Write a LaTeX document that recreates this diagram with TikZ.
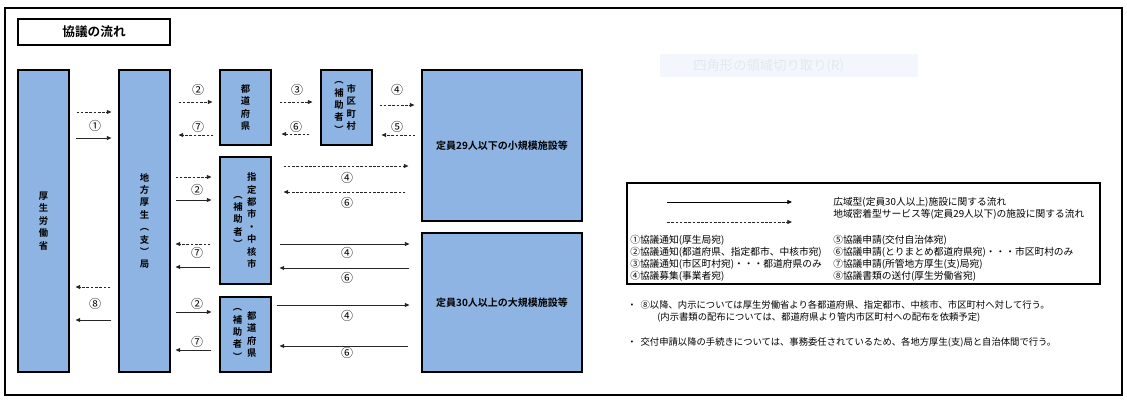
\documentclass[tikz,border=0pt]{standalone}
\usepackage{fontspec}
\setmainfont{Noto Sans CJK JP}[BoldFont={Noto Sans CJK JP Bold}]
\usetikzlibrary{arrows.meta,calc,positioning}
\definecolor{boxblue}{HTML}{8DB4E2}
\definecolor{ghost}{HTML}{F3F7FD}
\definecolor{ghosttext}{HTML}{E2E8F1}

\begin{document}
\begin{tikzpicture}[x=0.75pt, y=-0.75pt,
  pbox/.style 2 args={draw, line width=0.8pt, fill=boxblue, minimum width=#1*0.75pt, minimum height=#2*0.75pt, inner sep=0pt},
  vtxt/.style={font=\fontsize{7}{9.3}\selectfont\bfseries, align=center, inner sep=0pt},
  num/.style={font=\fontsize{9}{10}\selectfont, inner sep=0pt},
  note/.style={font=\fontsize{7.3}{8}\selectfont, anchor=west, inner sep=0pt},
  sflow/.style={draw=black!85, line width=0.6pt, -{Triangle[length=3.5pt,width=3pt]}},
  dflow/.style={sflow, dash pattern=on 2pt off 1.2pt}]

\useasboundingbox (0,0) rectangle (1127,401);
\draw[line width=0.8pt] (5,8) rectangle (1122,395);

% Titel und Hinweisfeld
\node[draw, line width=0.8pt, minimum width=152*0.75pt, minimum height=26*0.75pt, font=\fontsize{9.5}{11}\selectfont\bfseries] (title) at (94,32) {協議の流れ};
\node[fill=ghost, minimum width=258*0.75pt, minimum height=23*0.75pt, inner sep=0pt] (ghostbox) at (789,65.5) {};
\node[font=\fontsize{10}{12}\selectfont, text=ghosttext, anchor=west, inner sep=0pt] (ghostlbl) at (693,66) {四角形の領域切り取り(R)};

% Kaestchen
\node[pbox={51}{302}, vtxt] (mhlw) at (43.5,221) {厚\\生\\労\\働\\省};
\node[pbox={51}{302}, vtxt] (kyoku) at (144.5,221) {地\\方\\厚\\生\\︵\\支\\︶\\局};
\node[pbox={51}{75}, vtxt] (pref) at (245.5,107.5) {都\\道\\府\\県};
\node[pbox={51}{75}] (city) at (346.5,107.5) {};
\node[vtxt] (city-r) at ([xshift=3.5pt]city.center) {市\\区\\町\\村};
\node[vtxt] (city-l) at ([xshift=-5.6pt]city.center) {︵\\補\\助\\者\\︶};
\node[pbox={51}{127}] (shitei) at (245.5,220.5) {};
\node[vtxt] (shitei-r) at ([xshift=4.8pt]shitei.center) {指\\定\\都\\市\\・\\中\\核\\市};
\node[vtxt] (shitei-l) at ([xshift=-5.6pt,yshift=-1pt]shitei.center) {︵\\補\\助\\者\\︶};
\node[pbox={51}{75}] (prefh) at (245.5,334.5) {};
\node[vtxt] (prefh-r) at ([xshift=4.8pt]prefh.center) {都\\道\\府\\県};
\node[vtxt] (prefh-l) at ([xshift=-6pt]prefh.center) {︵\\補\\助\\者\\︶};
\node[pbox={160}{151}, font=\fontsize{7.5}{9}\selectfont\bfseries] (small) at (502,145.5) {定員29人以下の小規模施設等};
\node[pbox={160}{139}, font=\fontsize{7.5}{9}\selectfont\bfseries] (large) at (502,302.5) {定員30人以上の大規模施設等};

% Ministerium <-> Regionalbuero
\draw[dflow] ($(mhlw.east |- 0,112)+(7,0)$) -- ($(kyoku.west |- 0,112)+(-7,0)$);
\node[num] (n1) at (95,126) {①};
\draw[sflow] ($(mhlw.east |- 0,138)+(6,0)$) -- ($(kyoku.west |- 0,138)+(-7,0)$);
\draw[dflow] ($(kyoku.west |- 0,287)+(-8,0)$) -- ($(mhlw.east |- 0,287)+(6,0)$);
\node[num] (n8) at (95,304) {⑧};
\draw[sflow] ($(kyoku.west |- 0,320)+(-7,0)$) -- ($(mhlw.east |- 0,320)+(6,0)$);

% Regionalbuero <-> Praefektur
\node[num] (n2a) at (198,90) {②};
\draw[dflow] ($(kyoku.east |- 0,102)+(8,0)$) -- ($(pref.west |- 0,102)+(-7,0)$);
\node[num] (n7a) at (198,127) {⑦};
\draw[dflow] ($(pref.west |- 0,135)+(-6,0)$) -- ($(kyoku.east |- 0,135)+(8,0)$);

% Praefektur <-> Gemeinde
\node[num] (n3) at (297,90) {③};
\draw[dflow] ($(pref.east |- 0,102)+(8,0)$) -- ($(city.west |- 0,102)+(-8,0)$);
\node[num] (n6a) at (296,127) {⑥};
\draw[dflow] ($(city.west |- 0,134)+(-11,0)$) -- ($(pref.east |- 0,134)+(10,0)$);

% Gemeinde <-> kleine Einrichtungen
\node[num] (n4a) at (397,90) {④};
\draw[dflow] ($(city.east |- 0,105)+(7,0)$) -- ($(small.west |- 0,105)+(-7,0)$);
\node[num] (n5) at (397,127) {⑤};
\draw[dflow] ($(small.west |- 0,135)+(-6,0)$) -- ($(city.east |- 0,135)+(9,0)$);

% Regionalbuero <-> designierte Staedte
\draw[dflow] ($(kyoku.east |- 0,177)+(5,0)$) -- ($(shitei.west |- 0,177)+(-8,0)$);
\node[num] (n2b) at (197,190) {②};
\draw[sflow] ($(kyoku.east |- 0,200)+(5,0)$) -- ($(shitei.west |- 0,200)+(-8,0)$);
\draw[dflow] ($(shitei.west |- 0,244)+(-9,0)$) -- ($(kyoku.east |- 0,244)+(5,0)$);
\node[num] (n7b) at (197,253) {⑦};
\draw[sflow] ($(shitei.west |- 0,267)+(-9,0)$) -- ($(kyoku.east |- 0,267)+(5,0)$);

% designierte Staedte <-> Einrichtungen
\draw[dflow] ($(shitei.east |- 0,166)+(12,0)$) -- ($(small.west |- 0,166)+(-13,0)$);
\node[num] (n4b) at (347,178) {④};
\draw[dflow] ($(small.west |- 0,192)+(-16,0)$) -- ($(shitei.east |- 0,192)+(12,0)$);
\node[num] (n6b) at (347,203) {⑥};
\draw[sflow] ($(shitei.east |- 0,244)+(8,0)$) -- ($(large.west |- 0,244)+(-12,0)$);
\node[num] (n4c) at (347,253) {④};
\draw[sflow] ($(large.west |- 0,268)+(-12,0)$) -- ($(shitei.east |- 0,268)+(8,0)$);
\node[num] (n6c) at (347,278) {⑥};

% Regionalbuero <-> Praefektur (Zuschuss)
\node[num] (n2c) at (197,304) {②};
\draw[sflow] ($(kyoku.east |- 0,312)+(5,0)$) -- ($(prefh.west |- 0,312)+(-8,0)$);
\node[num] (n7c) at (197,342) {⑦};
\draw[sflow] ($(prefh.west |- 0,350)+(-8,0)$) -- ($(kyoku.east |- 0,350)+(5,0)$);

% Praefektur (Zuschuss) <-> grosse Einrichtungen
\draw[sflow] ($(prefh.east |- 0,305)+(5,0)$) -- ($(large.west |- 0,305)+(-12,0)$);
\node[num] (n4d) at (347,316) {④};
\draw[sflow] ($(large.west |- 0,346)+(-13,0)$) -- ($(prefh.east |- 0,346)+(8,0)$);
\node[num] (n6d) at (347,353) {⑥};

% Legende
\node[draw, line width=0.8pt, minimum width=473*0.75pt, minimum height=101*0.75pt, inner sep=0pt] (legend) at (863.5,233.5) {};
\coordinate (lg-s) at (667,202);
\coordinate (lg-d) at (667,222);
\draw[sflow, draw=black] (lg-s) -- ++(125,0);
\draw[dflow] (lg-d) -- ++(125,0);
\node[note] (lg-t1) at (833,202) {広域型(定員30人以上)施設に関する流れ};
\node[note] (lg-t2) at (833,214) {地域密着型サービス等(定員29人以下)の施設に関する流れ};
\node[note] (it1) at (630,240) {①協議通知(厚生局宛)};
\node[note] (it2) at (630,252) {②協議通知(都道府県、指定都市、中核市宛)};
\node[note] (it3) at (630,264) {③協議通知(市区町村宛)・・・都道府県のみ};
\node[note] (it4) at (630,276) {④協議募集(事業者宛)};
\node[note] (it5) at (833,240) {⑤協議申請(交付自治体宛)};
\node[note] (it6) at (833,252) {⑥協議申請(とりまとめ都道府県宛)・・・市区町村のみ};
\node[note] (it7) at (833,264) {⑦協議申請(所管地方厚生(支)局宛)};
\node[note] (it8) at (833,276) {⑧協議書類の送付(厚生労働省宛)};

% Hinweise
\node[note, font=\fontsize{7}{8}\selectfont] (nt1) at (627,305) {・\hspace{3pt}⑧以降、内示については厚生労働省より各都道府県、指定都市、中核市、市区町村へ対して行う。};
\node[note, font=\fontsize{7}{8}\selectfont] (nt2) at (657,317) {(内示書類の配布については、都道府県より管内市区町村への配布を依頼予定)};
\node[note, font=\fontsize{7}{8}\selectfont] (nt3) at (627,342) {・\hspace{3pt}交付申請以降の手続きについては、事務委任されているため、各地方厚生(支)局と自治体間で行う。};

\end{tikzpicture}
\end{document}
